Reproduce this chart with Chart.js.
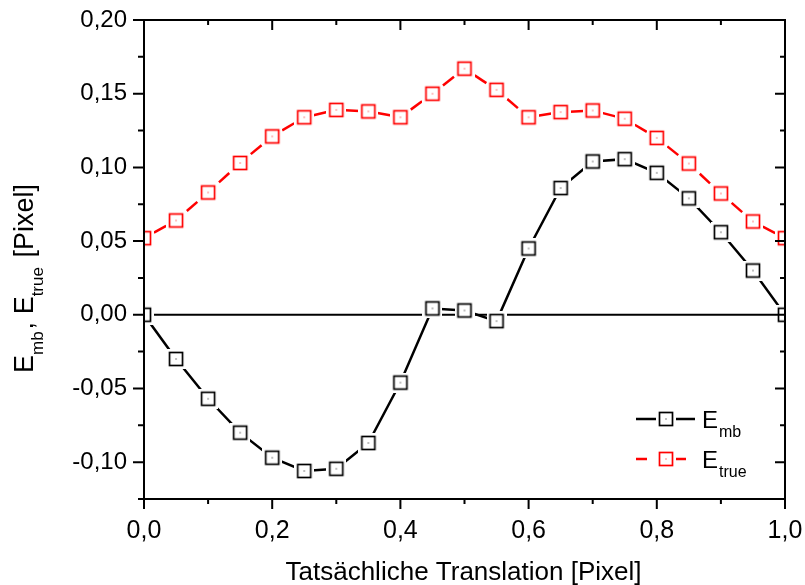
<!DOCTYPE html>
<html>
<head>
<meta charset="utf-8">
<script src="https://cdn.jsdelivr.net/npm/chart.js@4.4.1/dist/chart.umd.min.js"></script>
<style>
html,body{margin:0;padding:0;background:#fff;}
#wrap{width:805px;height:585px;position:relative;}
canvas{display:block;}
</style>
</head>
<body>
<div id="wrap"><canvas id="c" width="805" height="585" style="width:805px;height:585px"></canvas></div>
<script>
// ---- data ----
const xValues = [0.00,0.05,0.10,0.15,0.20,0.25,0.30,0.35,0.40,0.45,0.50,0.55,0.60,0.65,0.70,0.75,0.80,0.85,0.90,0.95,1.00];
const eMb   = [0.000,-0.030,-0.057,-0.080,-0.097,-0.106,-0.1045,-0.087,-0.046,0.0043,0.0029,-0.0043,0.045,0.086,0.104,0.1056,0.0963,0.079,0.056,0.030,0.000];
const eTrue = [0.052,0.064,0.083,0.103,0.121,0.134,0.139,0.138,0.134,0.150,0.167,0.1526,0.134,0.1375,0.1386,0.133,0.120,0.1026,0.0823,0.0633,0.052];
const zeroLineX = [0, 1];
const zeroLineY = [0, 0];
const xTicks = [0.0,0.2,0.4,0.6,0.8,1.0];
const xMinorTicks = [0.1,0.3,0.5,0.7,0.9];
const yTicks = [-0.10,-0.05,0.00,0.05,0.10,0.15,0.20];
const yMinorTicks = [-0.125,-0.075,-0.025,0.025,0.075,0.125,0.175];
const seriesMain = ['E','E'];
const seriesSub = ['mb','true'];
const xTitle = 'Tatsächliche Translation [Pixel]';
const yTitleParts = [['E',''],['mb','sub'],[', E',''],['true','sub'],[' [Pixel]','']];

const FONT = '"Liberation Sans", Arial, Helvetica, sans-serif';
const fmt = (v, d) => (Math.abs(v) < 1e-9 ? 0 : v).toFixed(d).replace('.', ',');

function marker(color) {
  const c = document.createElement('canvas');
  c.width = 20; c.height = 20;
  const g = c.getContext('2d');
  g.fillStyle = '#fff';
  g.fillRect(0, 0, 20, 20);
  g.strokeStyle = color;
  g.lineWidth = 1.7;
  g.strokeRect(3.5, 3.5, 13, 13);
  g.fillStyle = color;
  g.fillRect(9.5, 9.5, 1, 1);
  return c;
}
const mkBlack = marker('#000');
const mkRed = marker('#ff0000');

const toPts = (xs, ys) => xs.map((x, i) => ({x: x, y: ys[i]}));

// one dash centred on each segment between two markers
const DASH = 14;
const segDashOffset = ctx => {
  const L = Math.hypot(ctx.p1.x - ctx.p0.x, ctx.p1.y - ctx.p0.y);
  return -(L / 2 - DASH / 2) + ctx.p0DataIndex * 1e-6;
};

const framePlugin = {
  id: 'frame',
  afterDraw(chart) {
    const {ctx, chartArea: a, scales: {x, y}} = chart;
    ctx.save();
    ctx.strokeStyle = '#000';
    ctx.lineWidth = 2;
    ctx.beginPath();
    ctx.rect(a.left, a.top, a.right - a.left, a.bottom - a.top);
    ctx.stroke();
    ctx.beginPath();
    yTicks.forEach(v => { const p = y.getPixelForValue(v);
      ctx.moveTo(a.left - 11, p); ctx.lineTo(a.left, p);
      ctx.moveTo(a.right - 10, p); ctx.lineTo(a.right, p); });
    yMinorTicks.forEach(v => { const p = y.getPixelForValue(v);
      ctx.moveTo(a.left - 6, p); ctx.lineTo(a.left, p);
      ctx.moveTo(a.right - 5, p); ctx.lineTo(a.right, p); });
    xTicks.forEach(v => { const p = x.getPixelForValue(v);
      ctx.moveTo(p, a.bottom); ctx.lineTo(p, a.bottom + 10);
      ctx.moveTo(p, a.top); ctx.lineTo(p, a.top + 10); });
    xMinorTicks.forEach(v => { const p = x.getPixelForValue(v);
      ctx.moveTo(p, a.bottom); ctx.lineTo(p, a.bottom + 5);
      ctx.moveTo(p, a.top); ctx.lineTo(p, a.top + 5); });
    ctx.stroke();

    ctx.fillStyle = '#000';
    ctx.font = '26px ' + FONT;
    ctx.textAlign = 'center';
    ctx.textBaseline = 'alphabetic';
    ctx.fillText(xTitle, (a.left + a.right) / 2 - 1, 580);

    const mainF = '27px ' + FONT, subF = '17px ' + FONT;
    ctx.save();
    ctx.translate(33, 373);
    ctx.rotate(-Math.PI / 2);
    ctx.textAlign = 'left';
    let cx = 0;
    yTitleParts.forEach(([t, k]) => {
      ctx.font = k ? subF : mainF;
      ctx.fillText(t, cx, k ? 9.5 : 0);
      cx += ctx.measureText(t).width + (k ? 2 : 0);
    });
    ctx.restore();

    const rows = [
      {y: 419, color: '#000', mk: mkBlack, segs: [[636, 657], [675, 695]]},
      {y: 459, color: '#ff0000', mk: mkRed, segs: [[636, 647], [675, 686]]}
    ];
    rows.forEach((r, i) => {
      ctx.strokeStyle = r.color;
      ctx.lineWidth = 2.5;
      ctx.beginPath();
      r.segs.forEach(s => { ctx.moveTo(s[0], r.y); ctx.lineTo(s[1], r.y); });
      ctx.stroke();
      ctx.drawImage(r.mk, 666 - 10, r.y - 10);
      ctx.fillStyle = '#000';
      ctx.textAlign = 'left';
      ctx.font = '24px ' + FONT;
      ctx.fillText(seriesMain[i], 702, r.y + 9);
      const w = ctx.measureText(seriesMain[i]).width;
      ctx.font = '16px ' + FONT;
      ctx.fillText(seriesSub[i], 702 + w + 1, r.y + 18);
    });
    ctx.restore();
  }
};

new Chart(document.getElementById('c'), {
  type: 'line',
  data: {
    datasets: [
      {label: 'E_mb', data: toPts(xValues, eMb), borderColor: '#000', backgroundColor: '#000',
       borderWidth: 2.5, pointStyle: mkBlack, pointRadius: 9, pointHoverRadius: 9, tension: 0, clip: 0, order: 1},
      {label: 'E_true', data: toPts(xValues, eTrue), borderColor: '#ff0000', backgroundColor: '#ff0000',
       borderWidth: 2.5, borderDash: [DASH, 1000], pointStyle: mkRed, pointRadius: 9, pointHoverRadius: 9,
       tension: 0, clip: 0, order: 2,
       segment: {borderDash: [DASH, 1000], borderDashOffset: segDashOffset}},
      {label: 'zero', data: toPts(zeroLineX, zeroLineY), borderColor: '#000', borderWidth: 2,
       pointRadius: 0, tension: 0, clip: 0, order: 3}
    ]
  },
  options: {
    responsive: false,
    maintainAspectRatio: false,
    animation: false,
    devicePixelRatio: 1,
    layout: {padding: {left: 0, top: 20, right: 20, bottom: 0}},
    plugins: {legend: {display: false}, tooltip: {enabled: false}},
    scales: {
      x: {
        type: 'linear', min: 0, max: 1,
        afterBuildTicks: s => { s.ticks = xTicks.map(v => ({value: v})); },
        afterFit: s => { s.height = 86; s.paddingLeft = 0; s.paddingRight = 0; },
        grid: {display: false, drawTicks: false},
        border: {display: false},
        ticks: {color: '#000', font: {family: FONT, size: 25}, padding: 17, maxRotation: 0, autoSkip: false,
                callback: v => fmt(v, 1)}
      },
      y: {
        type: 'linear', min: -0.125, max: 0.20,
        afterBuildTicks: s => { s.ticks = yTicks.map(v => ({value: v})); },
        afterFit: s => { s.width = 144; s.paddingTop = 0; s.paddingBottom = 0; },
        grid: {display: false, drawTicks: false},
        border: {display: false},
        ticks: {color: '#000', font: {family: FONT, size: 24}, padding: 17, autoSkip: false,
                callback: v => fmt(v, 2)}
      }
    }
  },
  plugins: [framePlugin]
});
</script>
</body>
</html>
